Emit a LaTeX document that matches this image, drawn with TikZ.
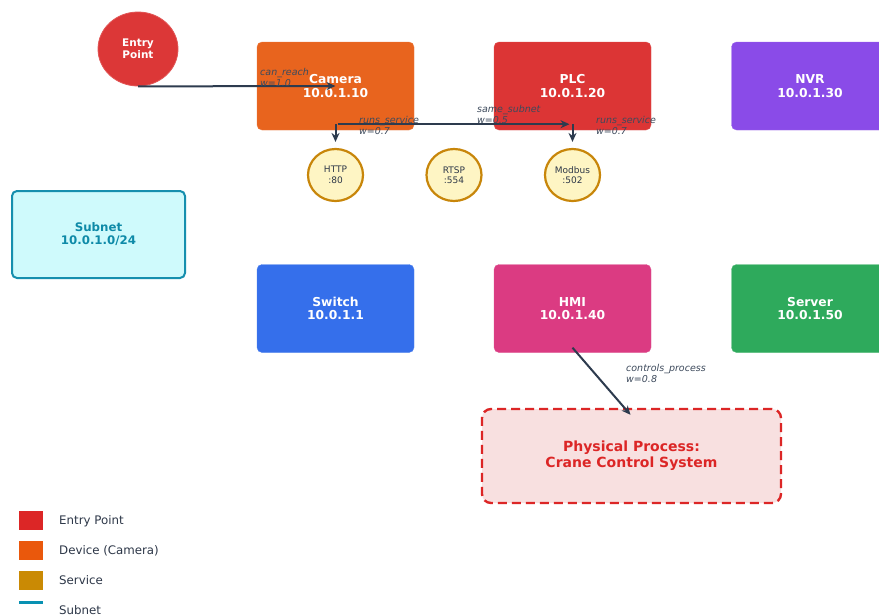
\documentclass[tikz,border=0pt]{standalone}
\usepackage{fontspec}
\setmainfont{DejaVu Sans}
\usetikzlibrary{shapes.geometric,arrows.meta,positioning}
\definecolor{cEntry}{HTML}{DC3737}
\definecolor{cCam}{HTML}{E8641E}
\definecolor{cPLC}{HTML}{DC3535}
\definecolor{cNVR}{HTML}{8A4BE8}
\definecolor{cSw}{HTML}{356FEB}
\definecolor{cHMI}{HTML}{DB3B82}
\definecolor{cSrv}{HTML}{2EAA5C}
\definecolor{cSubFill}{HTML}{CFFAFC}
\definecolor{cSubLine}{HTML}{168FAE}
\definecolor{cSubText}{HTML}{0E8AA8}
\definecolor{cSvcFill}{HTML}{FEF5C4}
\definecolor{cSvcLine}{HTML}{C8860A}
\definecolor{cEdge}{HTML}{2D3B4E}
\definecolor{cLab}{HTML}{3D4A5C}
\definecolor{cPhysFill}{HTML}{F8E0E0}
\definecolor{cPhysLine}{HTML}{DC2626}
\definecolor{cLegRed}{HTML}{DC2626}
\definecolor{cLegOrg}{HTML}{EA580C}
\definecolor{cLegSvc}{HTML}{CA8A04}
\definecolor{cLegSub}{HTML}{0891B2}
\definecolor{cLegText}{HTML}{2D3748}
\tikzset{
  devbox/.style={rectangle, rounded corners=5pt, minimum width=157pt, minimum height=88pt,
    text=white, align=center, font=\fontsize{12.3}{13.5}\selectfont\bfseries, inner sep=0pt},
  svc/.style={ellipse, minimum width=55pt, minimum height=52pt, fill=cSvcFill, draw=cSvcLine,
    line width=2.2pt, align=center, text=cLegText, font=\fontsize{9}{10.5}\selectfont, inner sep=0pt},
  edge/.style={draw=cEdge, line width=2pt, -{Stealth[length=9pt,width=8pt]}},
  elabel/.style={anchor=north west, align=left, text=cLab, inner sep=0pt,
    font=\fontsize{9.5}{11}\selectfont\itshape},
  legsq/.style={rectangle, minimum width=24pt, minimum height=19pt, inner sep=0pt},
  legtxt/.style={anchor=west, text=cLegText, inner sep=0pt, font=\fontsize{11.8}{13}\selectfont},
}
\begin{document}
\begin{tikzpicture}[x=1pt,y=-1pt]
\clip (0,0) rectangle (879,616);
\fill[white] (0,0) rectangle (879,616);

% devices
\node[ellipse, minimum width=80pt, minimum height=74pt, fill=cEntry, draw=cEntry!85!white, line width=0.8pt,
  text=white, align=center, font=\fontsize{10.5}{12}\selectfont\bfseries, inner sep=0pt]
  (entry) at (138,49) {Entry\\Point};
\node[devbox, fill=cCam, draw=cCam!85!white] (camera) at (335.5,86) {Camera\\10.0.1.10};
\node[devbox, fill=cPLC, draw=cPLC!85!white] (plc) at (572.5,86) {PLC\\10.0.1.20};
\node[devbox, fill=cNVR, draw=cNVR!85!white] (nvr) at (810,86) {NVR\\10.0.1.30};
\node[devbox, fill=cSw, draw=cSw!85!white] (switch) at (335.5,308.5) {Switch\\10.0.1.1};
\node[devbox, fill=cHMI, draw=cHMI!85!white] (hmi) at (572.5,308.5) {HMI\\10.0.1.40};
\node[devbox, fill=cSrv, draw=cSrv!85!white] (server) at (810,308.5) {Server\\10.0.1.50};

% subnet
\node[rectangle, rounded corners=5pt, minimum width=173pt, minimum height=87pt, fill=cSubFill,
  draw=cSubLine, line width=2pt, text=cSubText, align=center,
  font=\fontsize{11.8}{13}\selectfont\bfseries, inner sep=0pt] (subnet) at (98.5,234.5) {Subnet\\10.0.1.0/24};

% services
\node[svc] (http) at (335.5,175) {HTTP\\:80};
\node[svc] (rtsp) at (454,175) {RTSP\\:554};
\node[svc] (modbus) at (572.5,175) {Modbus\\:502};

% physical process
\node[rectangle, rounded corners=9pt, minimum width=299pt, minimum height=94pt, fill=cPhysFill,
  draw=cPhysLine, line width=2.4pt, dash pattern=on 9pt off 5pt, text=cPhysLine, align=center,
  font=\fontsize{14}{16}\selectfont\bfseries, inner sep=0pt] (phys) at (631.5,456) {Physical Process:\\Crane Control System};

% connectors
\coordinate (eA) at ([yshift=6pt]camera.south);
\coordinate (eB) at ([yshift=6pt]http.north);
\coordinate (eC) at ([xshift=2pt]eA);
\coordinate (eD) at ([yshift=6pt,xshift=-3pt]plc.south);
\coordinate (eE) at ([yshift=6pt]plc.south);
\coordinate (eF) at ([yshift=6pt]modbus.north);
\coordinate (eG) at ([yshift=5pt]hmi.south);
\coordinate (eH) at ([yshift=-7pt,xshift=-1pt]phys.north);
\draw[edge] (entry.south) -- (camera.center);
\draw[edge] (eA) -- (eB);
\draw[edge] (eC) -- (eD);
\draw[edge] (eE) -- (eF);
\draw[edge] (eG) -- (eH);

% edge labels
\node[elabel] (l1) at (260,68) {can\_reach\\w=1.0};
\node[elabel] (l2) at (359,116) {runs\_service\\w=0.7};
\node[elabel] (l3) at (477,105) {same\_subnet\\w=0.5};
\node[elabel] (l4) at (596,116) {runs\_service\\w=0.7};
\node[elabel] (l5) at (626,364) {controls\_process\\w=0.8};

% legend
\node[legsq, fill=cLegRed] (k1) at (31,520.5) {};
\node[legsq, fill=cLegOrg] (k2) at (31,550.5) {};
\node[legsq, fill=cLegSvc] (k3) at (31,580.5) {};
\node[rectangle, minimum width=24pt, minimum height=3.5pt, inner sep=0pt, fill=cLegSub] (k4) at (31,602.5) {};
\node[legtxt] (t1) at (59,521) {Entry Point};
\node[legtxt] (t2) at (59,551) {Device (Camera)};
\node[legtxt] (t3) at (59,580.5) {Service};
\node[legtxt] (t4) at (59,610) {Subnet};
\end{tikzpicture}
\end{document}
